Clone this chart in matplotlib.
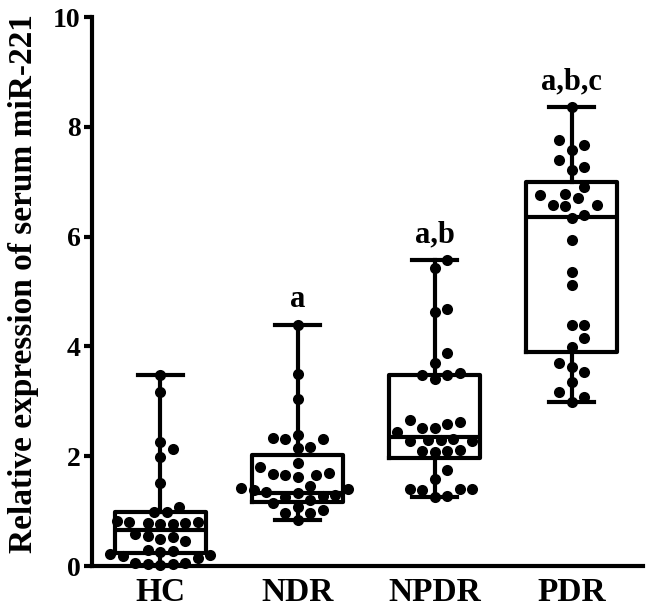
import numpy as np
import matplotlib
matplotlib.use("Agg")
import matplotlib.pyplot as plt

categories = ["HC", "NDR", "NPDR", "PDR"]
annotations = ["", "a", "a,b", "a,b,c"]

hc = [3.48, 3.17, 2.26, 2.13, 1.99, 1.51, 1.07, 0.98, 0.98,
      0.82, 0.78, 0.80, 0.76, 0.79, 0.81, 0.77,
      0.55, 0.50, 0.45, 0.52, 0.58,
      0.28, 0.22, 0.18, 0.15, 0.20, 0.25, 0.30,
      0.05, 0.03, 0.02, 0.06, 0.04]
ndr = [4.39, 3.50, 3.04, 2.39, 2.33, 2.31, 2.31, 2.17, 2.15, 1.88, 1.81,
       1.70, 1.66, 1.62, 1.65, 1.68, 1.45, 1.42, 1.40, 1.38, 1.35, 1.33,
       1.30, 1.28, 1.25, 1.20, 1.15, 1.08, 1.02, 0.97, 0.97, 0.84]
npdr = [5.57, 5.43, 4.68, 4.62, 3.88, 3.70, 3.52, 3.48, 3.48, 3.40,
        2.66, 2.62, 2.59, 2.51, 2.51, 2.44, 2.30, 2.30, 2.28, 2.28, 2.32,
        2.11, 2.08, 2.10, 2.09, 1.75, 1.58, 1.40, 1.40, 1.41, 1.39, 1.26, 1.28]
pdr = [8.36, 7.76, 7.67, 7.58, 7.40, 7.27, 7.21, 6.90, 6.78, 6.75, 6.70,
       6.58, 6.57, 6.55, 6.39, 6.34, 5.94, 5.36, 5.12, 4.39, 4.39, 4.15,
       3.99, 3.70, 3.62, 3.53, 3.35, 3.17, 3.08, 2.99]
groups = [hc, ndr, npdr, pdr]

# box statistics
whislo = [0.02, 0.84, 1.26, 2.99]
q1 = [0.24, 1.17, 1.97, 3.90]
med = [0.65, 1.33, 2.35, 6.36]
q3 = [0.98, 2.02, 3.48, 6.99]
whishi = [3.48, 4.39, 5.57, 8.36]

plt.rcParams['font.family'] = ['Liberation Serif', 'DejaVu Serif']
plt.rcParams['font.weight'] = 'bold'

fig = plt.figure(figsize=(6.5, 6.1), dpi=100)
ax = fig.add_axes([0.1415, 0.0721, 0.989 - 0.1415, 0.972 - 0.0721])
ax.set_xlim(-0.5, 3.52)
ax.set_ylim(0, 10)

lw = 3.0
stats = []
for i in range(len(categories)):
    stats.append(dict(whislo=whislo[i], q1=q1[i], med=med[i], q3=q3[i],
                      whishi=whishi[i], label=categories[i]))
ax.bxp(stats, positions=range(len(categories)), widths=0.66,
       showfliers=False,
       boxprops=dict(color='black', linewidth=lw),
       medianprops=dict(color='black', linewidth=lw),
       whiskerprops=dict(color='black', linewidth=lw),
       capprops=dict(color='black', linewidth=lw),
       capwidths=0.33, manage_ticks=False)

# beeswarm offsets computed in display space
fig.canvas.draw()
d = 12.5  # dot spacing in pixels
for i, vals in enumerate(groups):
    vals = np.sort(np.array(vals))
    disp = ax.transData.transform(np.column_stack([np.full(len(vals), i), vals]))
    cx = disp[0, 0]
    placed = []
    for (_, py) in disp:
        best = None
        for k in range(0, 40):
            for sgn in ([1] if k == 0 else [1, -1]):
                ox = cx + sgn * k * d * 0.5
                ok = all((ox - px) ** 2 + (py - qy) ** 2 >= (d * 0.98) ** 2 for px, qy in placed)
                if ok:
                    best = ox
                    break
            if best is not None:
                break
        placed.append((best, py))
    pts = ax.transData.inverted().transform(np.array(placed))
    ax.scatter(pts[:, 0], pts[:, 1], s=64, color='black', zorder=3,
               clip_on=False, linewidths=0)

for i, txt in enumerate(annotations):
    if txt:
        ax.text(i, whishi[i] + 0.32, txt, ha='center', va='baseline',
                fontsize=22, fontweight='bold')

ax.spines['top'].set_visible(False)
ax.spines['right'].set_visible(False)
ax.spines['left'].set_linewidth(lw)
ax.spines['bottom'].set_linewidth(lw)
ax.set_yticks(np.arange(0, 11, 2))
ax.set_yticklabels([str(v) for v in range(0, 11, 2)])
ax.set_xticks(range(len(categories)))
ax.set_xticklabels(categories)
ax.tick_params(axis='y', length=6, width=lw, labelsize=20, pad=2)
ax.tick_params(axis='x', length=0, labelsize=24, pad=8)
for lab in ax.get_xticklabels() + ax.get_yticklabels():
    lab.set_fontweight('bold')
ax.set_ylabel("Relative expression of serum miR-221", fontsize=24,
              fontweight='bold')
ax.yaxis.set_label_coords(-0.097, 0.515)

fig.savefig("out.png", dpi=100)
